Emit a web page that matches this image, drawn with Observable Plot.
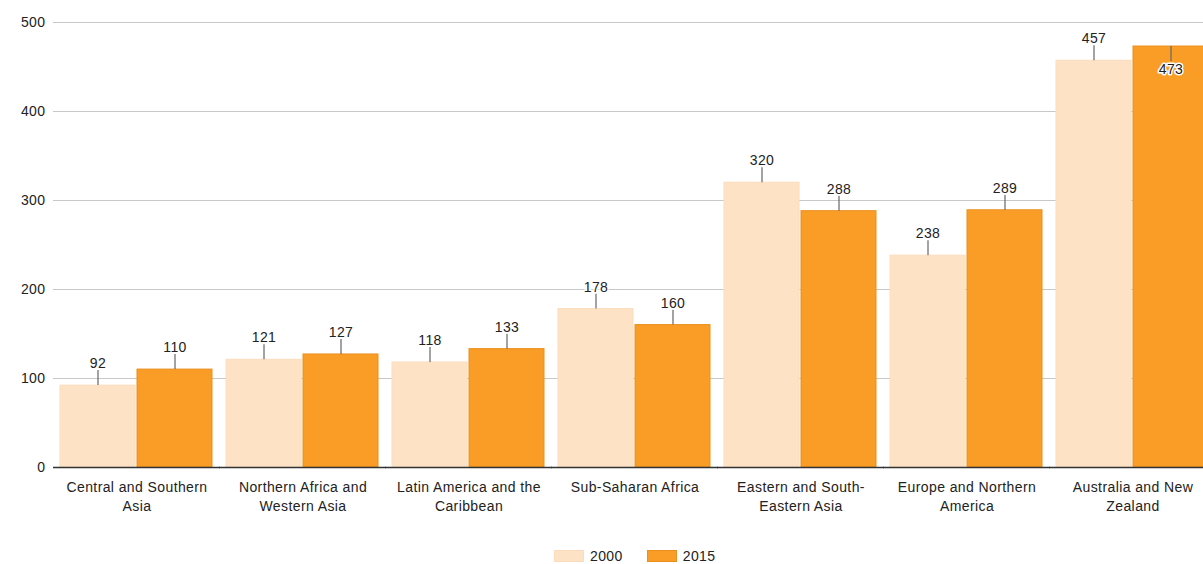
<!DOCTYPE html>
<html>
<head>
<meta charset="utf-8">
<script src="https://cdn.jsdelivr.net/npm/d3@7"></script>
<script src="https://cdn.jsdelivr.net/npm/@observablehq/plot@0.6"></script>
<style>
  html, body { margin: 0; padding: 0; background: #fff; overflow: hidden; width: 1203px; height: 564px; }
  #chart { position: absolute; left: 0; top: 0; width: 1218px; }
  #legend { position: absolute; left: 554px; top: 549px; display: flex; align-items: center; font-family: "Liberation Sans", Arial, sans-serif; font-size: 14px; line-height: 14px; letter-spacing: 0.4px; color: #222; }
  .sw { width: 30px; height: 12px; box-sizing: border-box; display: inline-block; margin-right: 6px; }
  .item { display: flex; align-items: center; margin-right: 24px; }
</style>
</head>
<body>
<div id="chart"></div>
<div id="legend"></div>
<script>
const regions = ["Central and Southern Asia", "Northern Africa and Western Asia", "Latin America and the Caribbean", "Sub-Saharan Africa", "Eastern and South-Eastern Asia", "Europe and Northern America", "Australia and New Zealand"];
const regionLabels = ["Central and Southern\nAsia", "Northern Africa and\nWestern Asia", "Latin America and the\nCaribbean", "Sub-Saharan Africa", "Eastern and South-\nEastern Asia", "Europe and Northern\nAmerica", "Australia and New\nZealand"];
const years = ["2000", "2015"];
const values2000 = [92, 121, 118, 178, 320, 238, 457];
const values2015 = [110, 127, 133, 160, 288, 289, 473];
const yTicks = [0, 100, 200, 300, 400, 500];
const fills = ["#FEE2C5", "#F99D26"];
const strokes = ["#FCDCBD", "#EC8E1D"];

const data = [];
regions.forEach((r, i) => {
  data.push({region: r, year: "2000", value: values2000[i]});
  data.push({region: r, year: "2015", value: values2015[i]});
});
const isInside = d => d.value > 465;
const outside = data.filter(d => !isInside(d));
const inside = data.filter(isInside);

const chart = Plot.plot({
  width: 1218,
  height: 545,
  marginLeft: 51,
  marginRight: 0,
  marginTop: 22,
  marginBottom: 78,
  style: {fontFamily: "'Liberation Sans', Arial, sans-serif", fontSize: "14px", letterSpacing: "0.4px", color: "#222", background: "#fff", overflow: "visible", maxWidth: "none"},
  fx: {domain: regions, paddingInner: 0.08, paddingOuter: 0.04, label: null, axis: null},
  x: {domain: years, paddingInner: 0.02, paddingOuter: 0, axis: null},
  y: {domain: [0, 500], label: null},
  marks: [
    Plot.ruleY(yTicks.filter(t => t > 0), {stroke: "#c8c8c8", strokeWidth: 1.2, insetLeft: -7, insetRight: -7}),
    Plot.barY(data, {fx: "region", x: "year", y: "value",
      fill: d => fills[years.indexOf(d.year)], stroke: d => strokes[years.indexOf(d.year)], strokeWidth: 1}),
    Plot.ruleY([0], {stroke: "#333", strokeWidth: 1.5, insetLeft: -7, insetRight: -7}),
    Plot.axisY({ticks: yTicks, tickSize: 0, tickPadding: 15, fontSize: 14, fill: "#222", label: null}),
    Plot.axisFx({anchor: "bottom", tickSize: 0, tickPadding: 12, fontSize: 14, fill: "#222", lineHeight: 1.3, label: null,
      tickFormat: d => regionLabels[regions.indexOf(d)]}),
    Plot.ruleX(outside, {fx: "region", x: "year", y1: "value", y2: "value", insetTop: -15, stroke: "#666", strokeWidth: 1.2}),
    Plot.text(outside, {fx: "region", x: "year", y: "value", text: d => String(d.value), dy: -22,
      fontSize: 14, fill: "#222", stroke: "#fff", strokeWidth: 3}),
    Plot.ruleX(inside, {fx: "region", x: "year", y1: "value", y2: "value", insetBottom: -15, stroke: "#666", strokeWidth: 1.2}),
    Plot.text(inside, {fx: "region", x: "year", y: "value", text: d => String(d.value), dy: 23,
      fontSize: 14, fill: "#222", stroke: "#fff", strokeWidth: 3})
  ]
});
document.getElementById("chart").appendChild(chart);

const legend = document.getElementById("legend");
years.forEach((y, i) => {
  const item = document.createElement("div");
  item.className = "item";
  const sw = document.createElement("span");
  sw.className = "sw";
  sw.style.background = fills[i];
  sw.style.border = "1px solid " + strokes[i];
  const t = document.createElement("span");
  t.textContent = y;
  item.appendChild(sw);
  item.appendChild(t);
  legend.appendChild(item);
});
</script>
</body>
</html>
